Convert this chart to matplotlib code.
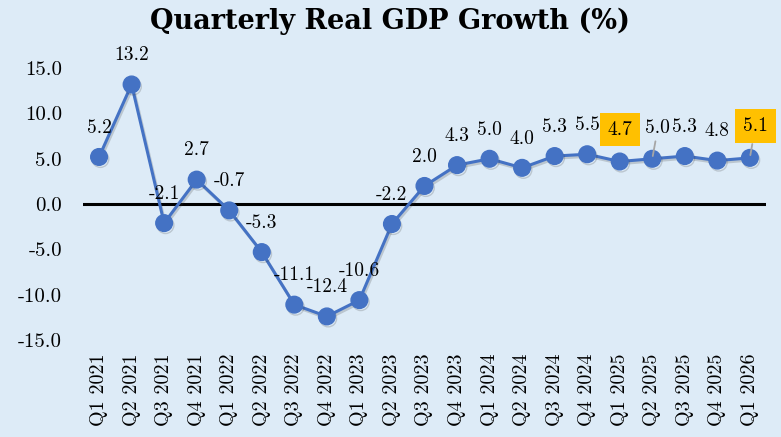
import matplotlib
matplotlib.use("Agg")
import matplotlib.pyplot as plt
import matplotlib.patheffects as pe

quarters = ["Q1 2021", "Q2 2021", "Q3 2021", "Q4 2021", "Q1 2022", "Q2 2022", "Q3 2022",
            "Q4 2022", "Q1 2023", "Q2 2023", "Q3 2023", "Q4 2023", "Q1 2024", "Q2 2024",
            "Q3 2024", "Q4 2024", "Q1 2025", "Q2 2025", "Q3 2025", "Q4 2025", "Q1 2026"]
growth = [5.2, 13.2, -2.1, 2.7, -0.7, -5.3, -11.1, -12.4, -10.6, -2.2, 2.0, 4.3, 5.0, 4.0,
          5.3, 5.5, 4.7, 5.0, 5.3, 4.8, 5.1]
highlight = ["Q1 2025", "Q1 2026"]
leader = ["Q2 2025", "Q1 2026"]
yticks = [15.0, 10.0, 5.0, 0.0, -5.0, -10.0, -15.0]

bg = "#DDEBF7"
blue = "#4472C4"
font = "cmr10"

fig = plt.figure(figsize=(7.81, 4.37), dpi=100, facecolor=bg)
ax = fig.add_axes([0.106, 0.222, 0.875, 0.622], facecolor=bg)

x = list(range(len(growth)))
ax.plot(x, growth, color=blue, lw=2.2, marker="o", ms=12, mec=blue, mfc=blue, zorder=3,
        path_effects=[pe.SimpleLineShadow(offset=(1, -1.5), alpha=0.2, shadow_color="#333333"),
                      pe.Normal()])
ax.axhline(0, color="black", lw=2.2, zorder=2)

for xi, (q, v) in enumerate(zip(quarters, growth)):
    dx = 4 if q in leader else 0
    dy = 23 if q in highlight else (22 if q in leader else 21)
    kw = dict(ha="center", va="center", fontsize=14, family=font, zorder=4,
              textcoords="offset points", xytext=(dx, dy))
    if q in highlight:
        kw["bbox"] = dict(boxstyle="square,pad=0.4", fc="#FFC000", ec="none")
    if q in leader:
        kw["arrowprops"] = dict(arrowstyle="-", color="#A6A6A6", lw=1.3, shrinkA=1, shrinkB=2)
    ax.annotate(f"{v:.1f}", (xi, v), **kw)

ax.set_xlim(-0.5, len(growth) - 0.5)
ax.set_ylim(-15, 15)
ax.set_yticks(yticks)
ax.set_yticklabels([f"{t:.1f}" for t in yticks], family=font, fontsize=15)
ax.set_xticks(x)
ax.set_xticklabels(quarters, rotation=90, family=font, fontsize=14.5)
ax.tick_params(axis="both", length=0)
ax.tick_params(axis="y", pad=15)
ax.tick_params(axis="x", pad=10)
for s in ax.spines.values():
    s.set_visible(False)

fig.text(0.5, 0.952, "Quarterly Real GDP Growth (%)", ha="center", va="center",
         fontsize=19.5, fontweight="bold", family="DejaVu Serif")

fig.savefig("out.png", dpi=100, facecolor=bg)
